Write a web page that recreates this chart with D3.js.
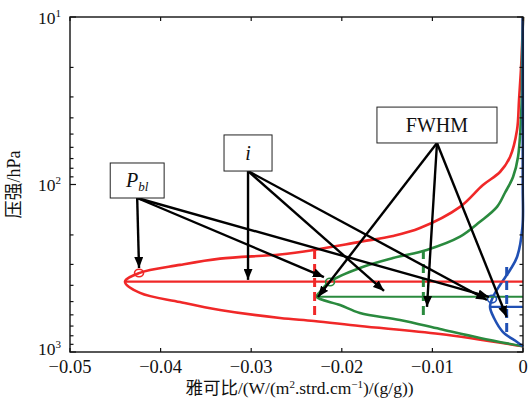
<!DOCTYPE html>
<html>
<head>
<meta charset="utf-8">
<script src="https://cdn.jsdelivr.net/npm/d3@7"></script>
<style>
  body { margin: 0; background: #fff; }
  text { font-family: "Times New Roman", "Liberation Serif", Tinos, "DejaVu Serif", "Noto Serif", serif; }
  text.cjk { font-family: "Times New Roman", "Liberation Serif", "DejaVu Serif", "Noto Sans CJK SC", serif; }
</style>
</head>
<body>
<div id="chart"></div>
<script>
// Jacobian profiles: pressure (hPa) and value
const redP = [10, 18.1, 31.3, 47.3, 68.5, 84.2, 100.7, 136, 182, 203, 220, 246, 262, 277, 302, 338, 380, 444, 503, 561, 627, 653, 700, 781, 925];
const redJ = [0, -0.00017, -0.00044, -0.00066, -0.00143, -0.00254, -0.00442, -0.00695, -0.01137, -0.01435, -0.018, -0.02307, -0.02682, -0.03344, -0.03786, -0.04239, -0.04393, -0.04227, -0.03786, -0.03344, -0.02682, -0.02307, -0.018, -0.00916, 0];

const greenP = [10, 18.1, 31.3, 68.5, 90.2, 112, 136, 167, 205, 246, 275, 315, 380, 438, 468, 524, 585, 644, 729, 824, 925];
const greenJ = [0, -0.00011, -0.00014, -0.00055, -0.0011, -0.00199, -0.00287, -0.00475, -0.00695, -0.01063, -0.01435, -0.018, -0.02131, -0.02241, -0.02277, -0.0202, -0.018, -0.01358, -0.00916, -0.00475, 0];

const blueP = [10, 100, 179, 271, 324, 398, 469, 538, 627, 760, 871, 925];
const blueJ = [-0.00003, -0.00003, -0.00006, -0.00066, -0.00143, -0.00254, -0.00331, -0.00364, -0.0032, -0.00221, -0.00066, 0];

// peak level (i), FWHM dashes and boundary layer markers, per curve
const peakP = [380, 468, 538];
const peakJ = [-0.04393, -0.02277, -0.00364];
const fwhmJ = [-0.0230, -0.0110, -0.0018];
const fwhmTop = [246, 246, 311];
const fwhmBottom = [644, 627, 770];
const pblJ = [-0.04238, -0.0213, -0.00342];
const pblP = [337.5, 382, 483];

// annotation boxes and where their arrows point
const boxLabels = ['Pbl', 'i', 'FWHM'];
const boxJ0 = [-0.04556, -0.0330, -0.01612];
const boxJ1 = [-0.03961, -0.0277, -0.00287];
const boxP0 = [74.4, 50.6, 34.5];
const boxP1 = [120.4, 83.1, 56.5];
const arrowJ = [
  [-0.04238, -0.02197, -0.00375],
  [-0.03035, -0.01534, -0.00397],
  [-0.02263, -0.0106, -0.0018]
];
const arrowP = [
  [315, 357, 469],
  [371, 432, 489],
  [469, 538, 618]
];

const xTicks = [-0.05, -0.04, -0.03, -0.02, -0.01, 0];
const xTickLabels = ['\u22120.05', '\u22120.04', '\u22120.03', '\u22120.02', '\u22120.01', '0'];
const yMajor = [10, 100, 1000];
const yExp = ['1', '2', '3'];

const colors = ['#f02828', '#2a8a3e', '#2050b4'];

function chart() {
  const margin = { top: 17, right: 9, bottom: 52, left: 70 };
  const W = 532, H = 404;
  const width = W - margin.left - margin.right;
  const height = H - margin.top - margin.bottom;

  const svg = d3.select('#chart').append('svg')
    .attr('width', W)
    .attr('height', H);

  const defs = svg.append('defs');
  defs.append('marker')
    .attr('id', 'head')
    .attr('markerUnits', 'userSpaceOnUse')
    .attr('markerWidth', 11).attr('markerHeight', 9)
    .attr('refX', 11).attr('refY', 4.5)
    .attr('orient', 'auto')
    .append('path')
    .attr('d', 'M0,0 L11,4.5 L0,9 Z')
    .attr('fill', '#000');

  const g = svg.append('g')
    .attr('transform', 'translate(' + margin.left + ',' + margin.top + ')');

  const x = d3.scaleLinear().domain([-0.05, 0]).range([0, width]);
  const y = d3.scaleLog().domain([10, 1000]).range([0, height]);

  const line = d3.line()
    .x(d => x(d[1]))
    .y(d => y(d[0]))
    .curve(d3.curveCatmullRom.alpha(0.5));

  // curves
  const series = [[redP, redJ], [greenP, greenJ], [blueP, blueJ]];
  series.forEach((s, k) => {
    g.append('path')
      .datum(d3.zip(s[0], s[1]))
      .attr('fill', 'none')
      .attr('stroke', colors[k])
      .attr('stroke-width', 2.6)
      .attr('d', line);
  });

  // peak level lines
  colors.forEach((c, k) => {
    g.append('line')
      .attr('x1', x(peakJ[k])).attr('x2', x(0))
      .attr('y1', y(peakP[k])).attr('y2', y(peakP[k]))
      .attr('stroke', c).attr('stroke-width', 2.2);
  });

  // FWHM dashes
  colors.forEach((c, k) => {
    g.append('line')
      .attr('x1', x(fwhmJ[k])).attr('x2', x(fwhmJ[k]))
      .attr('y1', y(fwhmTop[k])).attr('y2', y(fwhmBottom[k]))
      .attr('stroke', c).attr('stroke-width', 3)
      .attr('stroke-dasharray', '9,5');
  });

  // boundary layer markers
  colors.forEach((c, k) => {
    g.append('ellipse')
      .attr('cx', x(pblJ[k])).attr('cy', y(pblP[k]))
      .attr('rx', 4.5).attr('ry', 3.8)
      .attr('fill', 'none')
      .attr('stroke', c).attr('stroke-width', 1.6);
  });

  // axes frame and ticks
  const frame = g.append('g');
  frame.append('rect')
    .attr('width', width).attr('height', height)
    .attr('fill', 'none').attr('stroke', '#111').attr('stroke-width', 1.4);

  const yt = y.ticks();
  yt.forEach(t => {
    const len = yMajor.includes(t) ? 6 : 3.5;
    frame.append('line').attr('x1', 0).attr('x2', len)
      .attr('y1', y(t)).attr('y2', y(t)).attr('stroke', '#111').attr('stroke-width', 1.2);
    frame.append('line').attr('x1', width).attr('x2', width - len)
      .attr('y1', y(t)).attr('y2', y(t)).attr('stroke', '#111').attr('stroke-width', 1.2);
  });
  xTicks.forEach(t => {
    frame.append('line').attr('x1', x(t)).attr('x2', x(t))
      .attr('y1', 0).attr('y2', 4).attr('stroke', '#111').attr('stroke-width', 1.2);
    frame.append('line').attr('x1', x(t)).attr('x2', x(t))
      .attr('y1', height).attr('y2', height - 4).attr('stroke', '#111').attr('stroke-width', 1.2);
  });

  // tick labels
  xTicks.forEach((t, i) => {
    g.append('text')
      .attr('x', x(t)).attr('y', height + 20.5)
      .attr('text-anchor', 'middle')
      .attr('font-size', 18.5)
      .attr('fill', '#111')
      .text(xTickLabels[i]);
  });
  yMajor.forEach((t, i) => {
    const txt = g.append('text')
      .attr('x', -9).attr('y', y(t) + (t === 1000 ? 2.5 : 6.5))
      .attr('text-anchor', 'end')
      .attr('font-size', 17.5)
      .attr('fill', '#111');
    txt.append('tspan').text('10');
    txt.append('tspan').attr('font-size', 11).attr('dy', -7).text(yExp[i]);
  });

  // axis titles
  g.append('text')
    .attr('class', 'cjk')
    .attr('transform', 'translate(' + (-50) + ',' + y(100) + ') rotate(-90)')
    .attr('text-anchor', 'middle')
    .attr('font-size', 18)
    .attr('fill', '#111')
    .text('压强/hPa');

  const xl = g.append('text')
    .attr('class', 'cjk')
    .attr('x', width / 2 + 3).attr('y', height + 41.5)
    .attr('text-anchor', 'middle')
    .attr('font-size', 17.5)
    .attr('fill', '#111');
  xl.append('tspan').text('雅可比/(W/(m');
  xl.append('tspan').attr('font-size', 11).attr('dy', -6).text('2');
  xl.append('tspan').attr('dy', 6).text('.strd.cm');
  xl.append('tspan').attr('font-size', 11).attr('dy', -6).text('\u22121');
  xl.append('tspan').attr('dy', 6).text(')/(g/g))');

  // annotation boxes with arrows
  boxLabels.forEach((lab, k) => {
    const bx0 = x(boxJ0[k]), bx1 = x(boxJ1[k]);
    const by0 = y(boxP0[k]), by1 = y(boxP1[k]);
    const cx = (bx0 + bx1) / 2;

    arrowJ[k].forEach((aj, j) => {
      g.append('line')
        .attr('x1', cx).attr('y1', by1)
        .attr('x2', x(aj)).attr('y2', y(arrowP[k][j]))
        .attr('stroke', '#000').attr('stroke-width', 2.4)
        .attr('marker-end', 'url(#head)');
    });

    g.append('rect')
      .attr('x', bx0).attr('y', by0)
      .attr('width', bx1 - bx0).attr('height', by1 - by0)
      .attr('fill', '#fff').attr('stroke', '#222').attr('stroke-width', 1);

    const t = g.append('text')
      .attr('x', cx).attr('y', (by0 + by1) / 2 + 7)
      .attr('text-anchor', 'middle')
      .attr('font-size', 20)
      .attr('fill', '#111');
    if (lab === 'Pbl') {
      t.append('tspan').attr('font-style', 'italic').text('P');
      t.append('tspan').attr('font-style', 'italic').attr('font-size', 13).attr('dy', 4).text('bl');
    } else if (lab === 'i') {
      t.attr('font-style', 'italic').text('i');
    } else {
      t.text(lab);
    }
  });
}

chart();
</script>
</body>
</html>
